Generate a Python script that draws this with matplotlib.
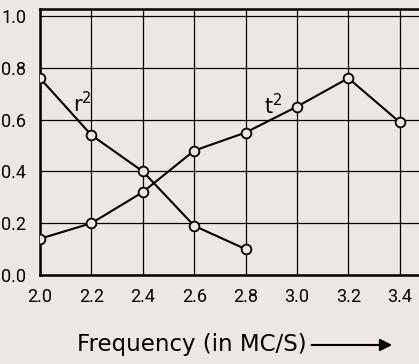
import matplotlib.pyplot as plt

# Reflection / transmission coefficients against frequency
freq_r = [2.0, 2.2, 2.4, 2.6, 2.8]
r_sq = [0.76, 0.54, 0.40, 0.19, 0.10]

freq_t = [2.0, 2.2, 2.4, 2.6, 2.8, 3.0, 3.2, 3.4]
t_sq = [0.14, 0.20, 0.32, 0.48, 0.55, 0.65, 0.76, 0.59]

x_ticks = [2.0, 2.2, 2.4, 2.6, 2.8, 3.0, 3.2, 3.4]
y_ticks = [0.0, 0.2, 0.4, 0.6, 0.8, 1.0]

bg = '#ede7e3'
tick_kw = dict(fontsize=13, family='Roboto')

fig = plt.figure(figsize=(4.19, 3.64), dpi=100, facecolor=bg)
ax = fig.add_axes([40 / 419, 89 / 364, 379 / 419, 266 / 364], facecolor=bg)

ax.plot(freq_r, r_sq, color='black', lw=1.5, marker='o', ms=7,
        mfc=bg, mec='black', mew=1.3, zorder=3)
ax.plot(freq_t, t_sq, color='black', lw=1.5, marker='o', ms=7,
        mfc=bg, mec='black', mew=1.3, zorder=3)

ax.set_xlim(2.0, 3.475)
ax.set_ylim(0.0, 1.027)
ax.set_xticks(x_ticks)
ax.set_yticks(y_ticks)
ax.set_xticklabels([f'{v:.1f}' for v in x_ticks], **tick_kw)
ax.set_yticklabels([f'{v:.1f}' for v in y_ticks], **tick_kw)
ax.tick_params(axis='y', length=0, pad=10)
ax.tick_params(axis='x', length=0, pad=9)

ax.grid(True, color='black', lw=0.9)
ax.spines['right'].set_visible(False)
for side in ['left', 'bottom', 'top']:
    ax.spines[side].set_linewidth(1.8)

ax.text(2.163, 0.66, 'r$^2$', fontsize=15, ha='center', va='center')
ax.text(2.906, 0.655, 't$^2$', fontsize=15, ha='center', va='center')

# axis caption with a long arrow after it
cap = fig.text(77 / 419, 1 - 345 / 364, 'Frequency (in MC/S)', fontsize=16.5,
               ha='left', va='center')
fig.canvas.draw()
x_end = cap.get_window_extent().x1 / fig.bbox.width
ax.annotate('', xy=(395 / 419, 1 - 345 / 364), xytext=(x_end + 0.005, 1 - 345 / 364),
            xycoords='figure fraction', textcoords='figure fraction',
            arrowprops=dict(arrowstyle='-|>', color='black', lw=1.5,
                            mutation_scale=18))

fig.savefig('out.png', dpi=100, facecolor=bg)
